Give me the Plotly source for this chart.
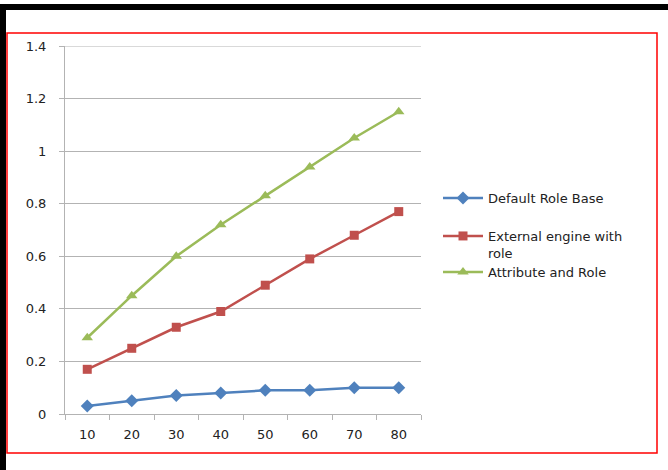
import plotly.graph_objects as go

# Chart data
categories = ["10", "20", "30", "40", "50", "60", "70", "80"]
default_role_base = [0.03, 0.05, 0.07, 0.08, 0.09, 0.09, 0.10, 0.10]
external_engine = [0.17, 0.25, 0.33, 0.39, 0.49, 0.59, 0.68, 0.77]
attribute_and_role = [0.29, 0.45, 0.60, 0.72, 0.83, 0.94, 1.05, 1.15]

W, H = 668, 470
L, R, T, B = 65, 421, 46, 414  # plot area in pixels


def px(x):
    return (x - L) / (R - L)


def py(y):
    return (B - y) / (B - T)


fig = go.Figure()
fig.add_trace(go.Scatter(
    x=categories, y=default_role_base, name="Default Role Base",
    mode="lines+markers", line=dict(color="#4F81BD", width=2.5),
    marker=dict(symbol="diamond", size=10, color="#4F81BD"), legend="legend"))
fig.add_trace(go.Scatter(
    x=categories, y=external_engine, name="External engine with<br>role",
    mode="lines+markers", line=dict(color="#C0504D", width=2.5),
    marker=dict(symbol="square", size=9, color="#C0504D"), legend="legend2"))
fig.add_trace(go.Scatter(
    x=categories, y=attribute_and_role, name="Attribute and Role",
    mode="lines+markers", line=dict(color="#9BBB59", width=2.5),
    marker=dict(symbol="triangle-up", size=10, color="#9BBB59"), legend="legend3"))

grid = "#B3B3B3"
txt = "#222222"


def legend_at(ytop):
    return dict(x=px(438), y=py(ytop), xanchor="left", yanchor="top",
                font=dict(size=13, color=txt), itemwidth=40, valign="top",
                bgcolor="rgba(0,0,0,0)")


fig.update_layout(
    width=W, height=H,
    margin=dict(l=L, r=W - R, t=T, b=H - B),
    paper_bgcolor="white", plot_bgcolor="white",
    font=dict(family="DejaVu Sans", size=13, color=txt),
    showlegend=True,
    legend=legend_at(183),
    legend2=legend_at(221),
    legend3=legend_at(257),
    xaxis=dict(type="category", range=[-0.5, 7.5], showgrid=False,
               showline=True, linecolor=grid, linewidth=1,
               ticks="outside", ticklen=5, tickcolor=grid, tickson="boundaries",
               ticklabelstandoff=8, tickfont=dict(size=13), fixedrange=True),
    yaxis=dict(range=[0, 1.4], dtick=0.2, showgrid=True, gridcolor=grid,
               gridwidth=1, showline=True, linecolor=grid, linewidth=1,
               ticks="outside", ticklen=5, tickcolor=grid, zeroline=False,
               ticklabelstandoff=10, tickfont=dict(size=13), fixedrange=True),
)

shapes = [
    # gridline at the top of the value axis
    dict(type="line", xref="paper", yref="y", x0=0, x1=1, y0=1.4, y1=1.4,
         line=dict(color=grid, width=1), layer="below"),
    # black bands at the top and left edges
    dict(type="rect", xref="paper", yref="paper", x0=px(0), x1=px(W),
         y0=py(4), y1=py(10), fillcolor="black", line=dict(width=0), layer="above"),
    dict(type="rect", xref="paper", yref="paper", x0=px(0), x1=px(6),
         y0=py(4), y1=py(H), fillcolor="black", line=dict(width=0), layer="above"),
    # red border around the chart
    dict(type="rect", xref="paper", yref="paper", x0=px(7), x1=px(657),
         y0=py(33), y1=py(453), line=dict(color="red", width=1.5),
         fillcolor="rgba(0,0,0,0)", layer="below"),
]
fig.update_layout(shapes=shapes)

fig.write_html("out.html")
